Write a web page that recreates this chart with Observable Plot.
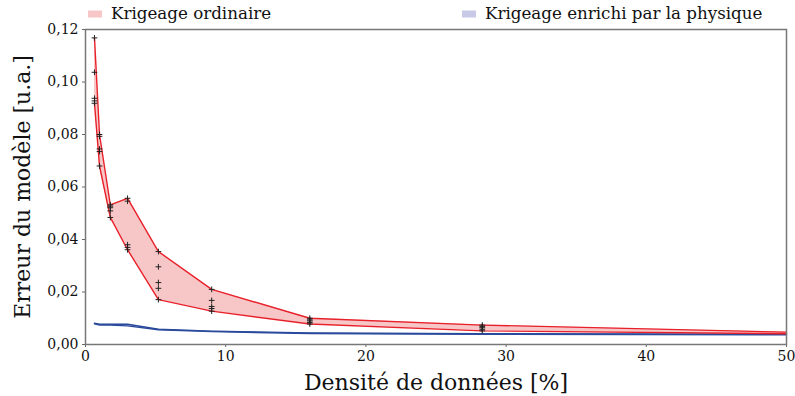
<!DOCTYPE html>
<html><head><meta charset="utf-8">
<script src="https://cdn.jsdelivr.net/npm/d3@7"></script>
<script src="https://cdn.jsdelivr.net/npm/@observablehq/plot@0.6"></script>
<style>
body{margin:0;background:#fff;}
#wrap{position:relative;width:795px;height:396px;}
</style></head><body><div id="wrap"></div>
<script>
// Densité de données [%]
const densite = [0.64, 1, 1.77, 3, 5.2, 9, 16, 28.3, 50];
// Krigeage ordinaire : erreurs des différents tirages, par densité
const ordinaireRuns = [
  [0.1168, 0.1037, 0.0938, 0.0928, 0.0919],
  [0.0800, 0.0793, 0.0745, 0.0735, 0.0680],
  [0.0532, 0.0527, 0.0521, 0.0509, 0.0484],
  [0.0557, 0.0546, 0.0380, 0.0370, 0.0361],
  [0.0354, 0.0296, 0.0236, 0.0214, 0.0171],
  [0.0210, 0.0168, 0.0145, 0.0137, 0.0127],
  [0.0100, 0.0094, 0.0090, 0.0084, 0.0078],
  [0.0074, 0.0069, 0.0064, 0.0058, 0.0052],
  [0.0047, 0.0046, 0.0044, 0.0043, 0.0041]
];
// Krigeage enrichi par la physique : enveloppe min / max
const enrichiMax = [0.0081, 0.0077, 0.0077, 0.0077, 0.0058, 0.0051, 0.0044, 0.0041, 0.0039];
const enrichiMin = [0.0079, 0.0074, 0.0074, 0.0071, 0.0056, 0.0049, 0.0042, 0.0039, 0.0037];
const xTicks = [0, 10, 20, 30, 40, 50];
const yTicks = [0, 0.02, 0.04, 0.06, 0.08, 0.10, 0.12];
const legendLabels = ["Krigeage ordinaire", "Krigeage enrichi par la physique"];

const band = densite.map((d, i) => ({
  x: d, lo: d3.min(ordinaireRuns[i]), hi: d3.max(ordinaireRuns[i]),
  elo: enrichiMin[i], ehi: enrichiMax[i]
}));
const pts = densite.flatMap((d, i) => d === 50 ? [] : ordinaireRuns[i].map(v => ({x: d, y: v})));

const RED = "#e8202a", PINK = "#f7c7c8", BLUE = "#2a4a9c", LAV = "#c7c9e6";

const chart = Plot.plot({
  width: 795, height: 396,
  marginLeft: 85, marginRight: 9, marginTop: 29, marginBottom: 52,
  style: {fontFamily: "DejaVu Serif", fontSize: "14px", color: "#111", background: "#fff", overflow: "visible"},
  x: {domain: [0, 50]},
  y: {domain: [0, 0.12]},
  marks: [
    Plot.areaY(band, {x: "x", y1: "elo", y2: "ehi", fill: LAV}),
    Plot.areaY(band, {x: "x", y1: "lo", y2: "hi", fill: PINK}),
    Plot.lineY(band, {x: "x", y: "ehi", stroke: BLUE, strokeWidth: 1.4}),
    Plot.lineY(band, {x: "x", y: "elo", stroke: BLUE, strokeWidth: 1.4}),
    Plot.lineY(band, {x: "x", y: "hi", stroke: RED, strokeWidth: 1.4}),
    Plot.lineY(band, {x: "x", y: "lo", stroke: RED, strokeWidth: 1.4}),
    Plot.dot(pts, {x: "x", y: "y", symbol: "plus", stroke: "#222", r: 2, strokeWidth: 1}),
    Plot.axisX({ticks: xTicks, tickSize: 3, tickPadding: 4, stroke: "#666",
      label: "Densité de données [%]", labelAnchor: "center", labelOffset: 45, labelArrow: "none"}),
    Plot.axisY({ticks: yTicks, tickSize: 3, tickPadding: 4, stroke: "#666",
      tickFormat: d => d.toFixed(2).replace(".", ","),
      label: "Erreur du modèle [u.a.]", labelAnchor: "center", labelOffset: 71, labelArrow: "none"}),
    Plot.frame({stroke: "#777", strokeWidth: 1.5})
  ]
});

const wrap = document.getElementById("wrap");
wrap.appendChild(chart);
chart.querySelectorAll('g[aria-label="x-axis label"], g[aria-label="y-axis label"]').forEach(g => {
  g.setAttribute("font-size", "22px");
  g.querySelectorAll("text").forEach(t => { t.setAttribute("font-size", "22px"); t.style.fontSize = "22px"; });
});

// Légende (dans la marge haute du SVG)
const svg = d3.select(chart);
const leg = svg.append("g").attr("aria-label", "legend").attr("text-anchor", "start")
  .attr("font-family", "DejaVu Serif");
const legs = [[88, PINK], [462, LAV]];
legs.forEach(([left, col], i) => {
  leg.append("rect").attr("x", left).attr("y", 10.5).attr("width", 14).attr("height", 7).attr("fill", col);
  leg.append("text").attr("x", left + 23).attr("y", 14).attr("dy", "0.32em")
    .attr("text-anchor", "start").attr("font-size", 16.7).attr("fill", "#111")
    .style("font-family", "'DejaVu Serif', serif").text(legendLabels[i]);
});
</script>
</body></html>
